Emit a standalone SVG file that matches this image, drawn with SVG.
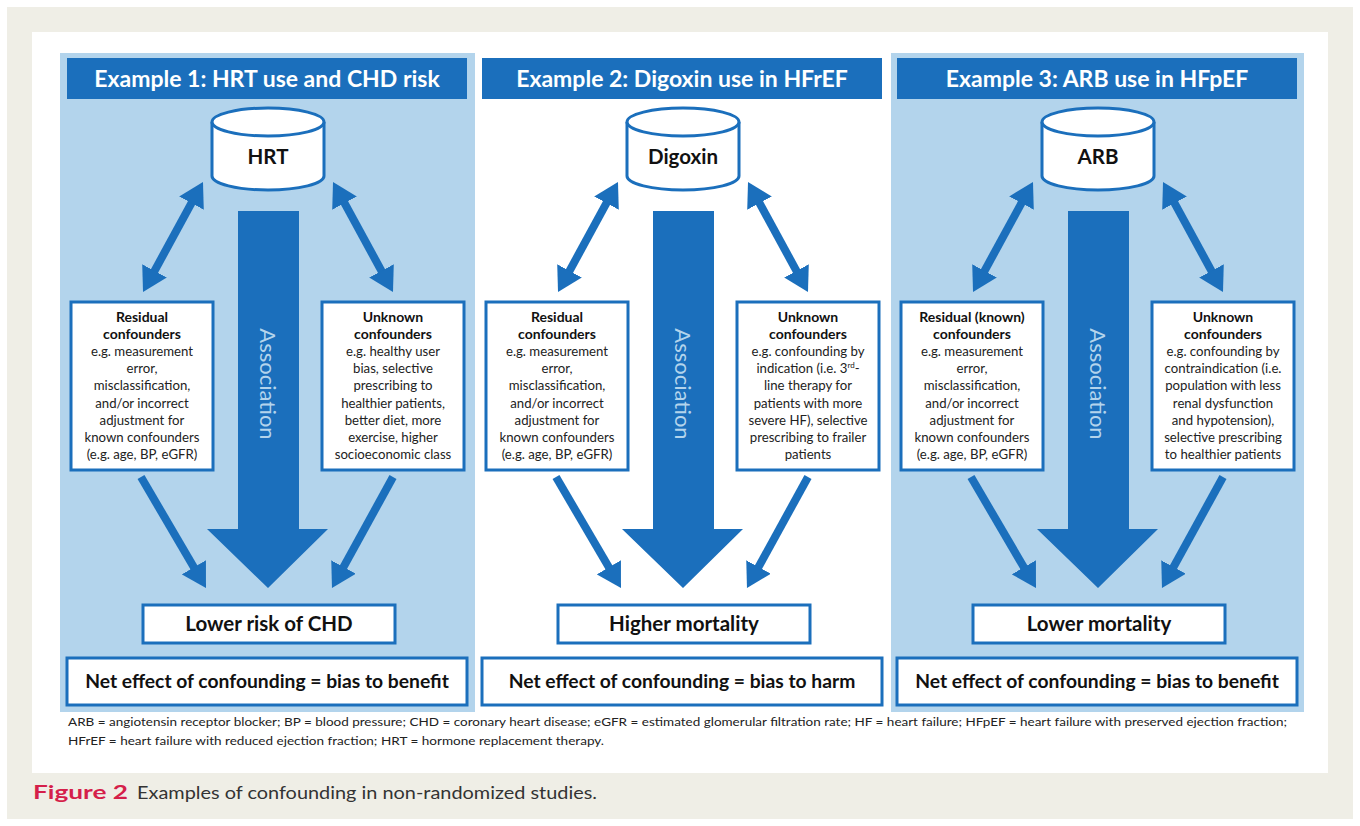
<svg xmlns="http://www.w3.org/2000/svg" width="1360" height="826" viewBox="0 0 1360 826">
<style>
.bg{fill:#efeee6}
.card{fill:#ffffff}
.panel{fill:#b3d4ec}
.bar{fill:#1b6fbc}
.title{font-family:Lato,"Open Sans","Liberation Sans",sans-serif;font-weight:bold;font-size:23px;fill:#ffffff;text-anchor:middle}
.box{fill:#ffffff;stroke:#1b6fbc;stroke-width:3}
.cyl{fill:#ffffff;stroke:#1b6fbc;stroke-width:3}
.lbl{font-family:Lato,"Open Sans","Liberation Sans",sans-serif;font-weight:bold;font-size:20.5px;fill:#111;text-anchor:middle}
.net{font-size:19.3px}
.bt{font-family:Lato,"Open Sans","Liberation Sans",sans-serif;font-size:13.2px;fill:#222;text-anchor:middle}
.bt .b{font-weight:bold;fill:#111;font-size:14px}
.assoc{font-family:Lato,"Open Sans","Liberation Sans",sans-serif;font-size:22px;fill:#b3d4ec;text-anchor:middle}
.con{stroke:#1b6fbc;stroke-width:8;fill:none}
.big{fill:#1b6fbc}
.foot{font-family:Lato,"Open Sans","Liberation Sans",sans-serif;font-size:12px;fill:#222}
.cap{font-family:Lato,"Open Sans","Liberation Sans",sans-serif;font-size:18px;fill:#333}
.fig{font-weight:bold;fill:#d51f4a}
</style>
<defs>
<marker id="ah" markerUnits="userSpaceOnUse" markerWidth="26" markerHeight="28" refX="9" refY="14" orient="auto-start-reverse" viewBox="0 0 26 28">
<path d="M0,0 L24,14 L0,28 z" fill="#1b6fbc"/>
</marker>
</defs>
<rect x="0" y="0" width="1360" height="826" fill="#ffffff"/>
<rect class="bg" x="7" y="7" width="1346" height="812"/>
<rect class="card" x="32" y="32" width="1296" height="741"/>

<!-- Panel 1 -->
<g id="panel1">
<rect class="panel" x="60" y="53" width="415" height="659"/>
<g id="p1-title"><rect class="bar" x="67" y="58" width="400" height="41"/><text class="title" x="267" y="87">Example 1: HRT use and CHD risk</text></g>
<g id="p1-drug"><path class="cyl" d="M212,122 V176 A56,14 0 0 0 324,176 V122"/><ellipse class="cyl" cx="268" cy="122" rx="56" ry="14"/><text class="lbl" x="268" y="164">HRT</text></g>
<g id="p1-assoc"><path class="big" d="M238,211 H299 V529 H328 L268,588 L207,529 H238 Z"/><text class="assoc" transform="translate(268,384) rotate(90)" x="0" y="8">Association</text></g>
<g id="p1-residual"><rect class="box" x="71" y="302" width="142" height="168"/>
<text class="bt"><tspan class="b" x="142" y="321.5">Residual</tspan><tspan class="b" x="142" y="338.7">confounders</tspan><tspan x="142" y="355.9">e.g. measurement</tspan><tspan x="142" y="373.1">error,</tspan><tspan x="142" y="390.3">misclassification,</tspan><tspan x="142" y="407.5">and/or incorrect</tspan><tspan x="142" y="424.7">adjustment for</tspan><tspan x="142" y="441.9">known confounders</tspan><tspan x="142" y="459.1">(e.g. age, BP, eGFR)</tspan></text></g>
<g id="p1-unknown"><rect class="box" x="322" y="302" width="142" height="168"/>
<text class="bt"><tspan class="b" x="393" y="321.5">Unknown</tspan><tspan class="b" x="393" y="338.7">confounders</tspan><tspan x="393" y="355.9">e.g. healthy user</tspan><tspan x="393" y="373.1">bias, selective</tspan><tspan x="393" y="390.3">prescribing to</tspan><tspan x="393" y="407.5">healthier patients,</tspan><tspan x="393" y="424.7">better diet, more</tspan><tspan x="393" y="441.9">exercise, higher</tspan><tspan x="393" y="459.1">socioeconomic class</tspan></text></g>
<g id="p1-outcome"><rect class="box" x="143" y="605" width="252" height="38"/><text class="lbl" x="269" y="631">Lower risk of CHD</text></g>
<g id="p1-net"><rect class="box" x="67" y="658" width="400" height="47"/><text class="lbl net" x="267" y="688">Net effect of confounding = bias to benefit</text></g>
</g>

<!-- Panel 2 -->
<g id="panel2">
<g id="p2-title"><rect class="bar" x="482" y="58" width="400" height="41"/><text class="title" x="682" y="87">Example 2: Digoxin use in HFrEF</text></g>
<g id="p2-drug"><path class="cyl" d="M627,122 V176 A56,14 0 0 0 739,176 V122"/><ellipse class="cyl" cx="683" cy="122" rx="56" ry="14"/><text class="lbl" x="683" y="164">Digoxin</text></g>
<g id="p2-assoc"><path class="big" d="M653,211 H714 V529 H743 L683,588 L622,529 H653 Z"/><text class="assoc" transform="translate(683,384) rotate(90)" x="0" y="8">Association</text></g>
<g id="p2-residual"><rect class="box" x="486" y="302" width="142" height="168"/>
<text class="bt"><tspan class="b" x="557" y="321.5">Residual</tspan><tspan class="b" x="557" y="338.7">confounders</tspan><tspan x="557" y="355.9">e.g. measurement</tspan><tspan x="557" y="373.1">error,</tspan><tspan x="557" y="390.3">misclassification,</tspan><tspan x="557" y="407.5">and/or incorrect</tspan><tspan x="557" y="424.7">adjustment for</tspan><tspan x="557" y="441.9">known confounders</tspan><tspan x="557" y="459.1">(e.g. age, BP, eGFR)</tspan></text></g>
<g id="p2-unknown"><rect class="box" x="737" y="302" width="142" height="168"/>
<text class="bt"><tspan class="b" x="808" y="321.5">Unknown</tspan><tspan class="b" x="808" y="338.7">confounders</tspan><tspan x="808" y="355.9">e.g. confounding by</tspan><tspan x="808" y="373.1">indication (i.e. 3<tspan font-size="8" dy="-5">rd</tspan><tspan dy="5">-</tspan></tspan><tspan x="808" y="390.3">line therapy for</tspan><tspan x="808" y="407.5">patients with more</tspan><tspan x="808" y="424.7">severe HF), selective</tspan><tspan x="808" y="441.9">prescribing to frailer</tspan><tspan x="808" y="459.1">patients</tspan></text></g>
<g id="p2-outcome"><rect class="box" x="558" y="605" width="252" height="38"/><text class="lbl" x="684" y="631">Higher mortality</text></g>
<g id="p2-net"><rect class="box" x="482" y="658" width="400" height="47"/><text class="lbl net" x="682" y="688">Net effect of confounding = bias to harm</text></g>
</g>

<!-- Panel 3 -->
<g id="panel3">
<rect class="panel" x="891" y="53" width="413" height="659"/>
<g id="p3-title"><rect class="bar" x="897" y="58" width="400" height="41"/><text class="title" x="1097" y="87">Example 3: ARB use in HFpEF</text></g>
<g id="p3-drug"><path class="cyl" d="M1042,122 V176 A56,14 0 0 0 1154,176 V122"/><ellipse class="cyl" cx="1098" cy="122" rx="56" ry="14"/><text class="lbl" x="1098" y="164">ARB</text></g>
<g id="p3-assoc"><path class="big" d="M1068,211 H1129 V529 H1158 L1098,588 L1037,529 H1068 Z"/><text class="assoc" transform="translate(1098,384) rotate(90)" x="0" y="8">Association</text></g>
<g id="p3-residual"><rect class="box" x="901" y="302" width="142" height="168"/>
<text class="bt"><tspan class="b" x="972" y="321.5">Residual (known)</tspan><tspan class="b" x="972" y="338.7">confounders</tspan><tspan x="972" y="355.9">e.g. measurement</tspan><tspan x="972" y="373.1">error,</tspan><tspan x="972" y="390.3">misclassification,</tspan><tspan x="972" y="407.5">and/or incorrect</tspan><tspan x="972" y="424.7">adjustment for</tspan><tspan x="972" y="441.9">known confounders</tspan><tspan x="972" y="459.1">(e.g. age, BP, eGFR)</tspan></text></g>
<g id="p3-unknown"><rect class="box" x="1152" y="302" width="142" height="168"/>
<text class="bt"><tspan class="b" x="1223" y="321.5">Unknown</tspan><tspan class="b" x="1223" y="338.7">confounders</tspan><tspan x="1223" y="355.9">e.g. confounding by</tspan><tspan x="1223" y="373.1">contraindication (i.e.</tspan><tspan x="1223" y="390.3">population with less</tspan><tspan x="1223" y="407.5">renal dysfunction</tspan><tspan x="1223" y="424.7">and hypotension),</tspan><tspan x="1223" y="441.9">selective prescribing</tspan><tspan x="1223" y="459.1">to healthier patients</tspan></text></g>
<g id="p3-outcome"><rect class="box" x="973" y="605" width="252" height="38"/><text class="lbl" x="1099" y="631">Lower mortality</text></g>
<g id="p3-net"><rect class="box" x="897" y="658" width="400" height="47"/><text class="lbl net" x="1097" y="688">Net effect of confounding = bias to benefit</text></g>
</g>

<!-- Connectors -->
<g id="connectors">
<g id="c-p1">
<line class="con" x1="150.2" y1="278.8" x2="195.8" y2="195.2" marker-start="url(#ah)" marker-end="url(#ah)"/>
<line class="con" x1="340.2" y1="195.2" x2="385.8" y2="278.8" marker-start="url(#ah)" marker-end="url(#ah)"/>
<line class="con" x1="141" y1="477" x2="198.4" y2="575" marker-end="url(#ah)"/>
<line class="con" x1="393" y1="477" x2="339.2" y2="574.9" marker-end="url(#ah)"/>
</g>
<g id="c-p2" transform="translate(415,0)">
<line class="con" x1="150.2" y1="278.8" x2="195.8" y2="195.2" marker-start="url(#ah)" marker-end="url(#ah)"/>
<line class="con" x1="340.2" y1="195.2" x2="385.8" y2="278.8" marker-start="url(#ah)" marker-end="url(#ah)"/>
<line class="con" x1="141" y1="477" x2="198.4" y2="575" marker-end="url(#ah)"/>
<line class="con" x1="393" y1="477" x2="339.2" y2="574.9" marker-end="url(#ah)"/>
</g>
<g id="c-p3" transform="translate(830,0)">
<line class="con" x1="150.2" y1="278.8" x2="195.8" y2="195.2" marker-start="url(#ah)" marker-end="url(#ah)"/>
<line class="con" x1="340.2" y1="195.2" x2="385.8" y2="278.8" marker-start="url(#ah)" marker-end="url(#ah)"/>
<line class="con" x1="141" y1="477" x2="198.4" y2="575" marker-end="url(#ah)"/>
<line class="con" x1="393" y1="477" x2="339.2" y2="574.9" marker-end="url(#ah)"/>
</g>
</g>

<g id="footnote">
<text class="foot" x="68" y="726" textLength="1219" lengthAdjust="spacingAndGlyphs">ARB = angiotensin receptor blocker; BP = blood pressure; CHD = coronary heart disease; eGFR = estimated glomerular filtration rate; HF = heart failure; HFpEF = heart failure with preserved ejection fraction;</text>
<text class="foot" x="68" y="745" textLength="536" lengthAdjust="spacingAndGlyphs">HFrEF = heart failure with reduced ejection fraction; HRT = hormone replacement therapy.</text>
</g>
<g id="caption">
<text class="cap fig" x="33" y="799" font-size="20" textLength="95" lengthAdjust="spacingAndGlyphs">Figure 2</text>
<text class="cap" x="137" y="799" textLength="460" lengthAdjust="spacingAndGlyphs">Examples of confounding in non-randomized studies.</text>
</g>
</svg>
